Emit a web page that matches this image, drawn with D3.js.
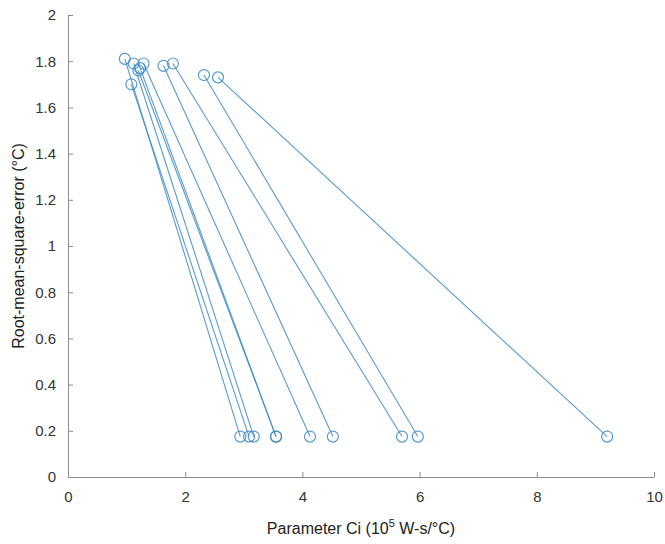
<!DOCTYPE html>
<html>
<head>
<meta charset="utf-8">
<script src="https://cdn.jsdelivr.net/npm/d3@7"></script>
<style>
  body { margin: 0; background: #fff; }
  svg text { font-family: "Liberation Sans", Arial, sans-serif; }
</style>
</head>
<body>
<div id="container"></div>
<script>
// each run: start point (top) and end point (bottom)
var startCi   = [0.97, 1.08, 1.12, 1.20, 1.23, 1.29, 1.63, 1.79, 2.32, 2.56];
var startRmse = [1.81, 1.70, 1.79, 1.76, 1.77, 1.79, 1.78, 1.79, 1.74, 1.73];
var endCi     = [2.94, 3.09, 3.17, 3.55, 3.55, 4.13, 4.52, 5.70, 5.97, 9.20];
var endRmse   = [0.175, 0.175, 0.175, 0.175, 0.175, 0.175, 0.175, 0.175, 0.175, 0.175];

var xTicks = [0, 2, 4, 6, 8, 10];
var yTicks = [0, 0.2, 0.4, 0.6, 0.8, 1, 1.2, 1.4, 1.6, 1.8, 2];

var W = 665, H = 544,
    margin = {top: 15, right: 11, bottom: 67, left: 68},
    width = W - margin.left - margin.right,
    height = H - margin.top - margin.bottom;

var svg = d3.select("div#container").append("svg").attr("width", W).attr("height", H);
var g = svg.append("g").attr("transform", "translate(" + margin.left + "," + margin.top + ")");

var xScale = d3.scaleLinear().domain([0, 10]).range([0, width]);
var yScale = d3.scaleLinear().domain([0, 2]).range([height, 0]);

var axisColor = "#8c8c8c", textColor = "#333";

// x axis, ticks inside
var gx = g.append("g")
  .attr("transform", "translate(0," + height + ")")
  .call(d3.axisBottom(xScale).tickValues(xTicks).tickSizeInner(-5).tickSizeOuter(0).tickPadding(14));
// y axis, ticks inside
var gy = g.append("g")
  .call(d3.axisLeft(yScale).tickValues(yTicks).tickSizeInner(-5).tickSizeOuter(0).tickPadding(12)
    .tickFormat(function(d) { return d3.format("")(+d.toFixed(1)); }));

[gx, gy].forEach(function(a) {
  a.select(".domain").attr("stroke", axisColor);
  a.selectAll(".tick line").attr("stroke", axisColor);
  a.selectAll("text").attr("fill", textColor).style("font-size", "15px");
});

var runs = startCi.map(function(d, i) {
  return [[startCi[i], startRmse[i]], [endCi[i], endRmse[i]]];
});

var line = d3.line()
  .x(function(d) { return xScale(d[0]); })
  .y(function(d) { return yScale(d[1]); });

var col = "#3b8ac4";
g.selectAll("path.run").data(runs).enter().append("path")
  .attr("class", "run")
  .attr("d", line)
  .attr("fill", "none")
  .attr("stroke", col)
  .attr("stroke-width", 1.1)
  .attr("opacity", 0.85);

var pts = [];
runs.forEach(function(r) { pts.push(r[0], r[1]); });
g.selectAll("circle").data(pts).enter().append("circle")
  .attr("cx", function(d) { return xScale(d[0]); })
  .attr("cy", function(d) { return yScale(d[1]); })
  .attr("r", 5.5)
  .attr("fill", "none")
  .attr("stroke", col)
  .attr("stroke-width", 1.2)
  .attr("opacity", 0.85);

// axis labels
var xl = svg.append("text")
  .attr("x", margin.left + width / 2).attr("y", 534)
  .attr("text-anchor", "middle")
  .attr("fill", "#222").style("font-size", "16px");
xl.append("tspan").text("Parameter Ci (10");
xl.append("tspan").attr("dy", -7).style("font-size", "11px").text("5");
xl.append("tspan").attr("dy", 7).text(" W-s/°C)");

svg.append("text")
  .attr("transform", "translate(24," + (margin.top + height / 2) + ") rotate(-90)")
  .attr("text-anchor", "middle")
  .attr("fill", "#222").style("font-size", "16px")
  .text("Root-mean-square-error (°C)");
</script>
</body>
</html>
